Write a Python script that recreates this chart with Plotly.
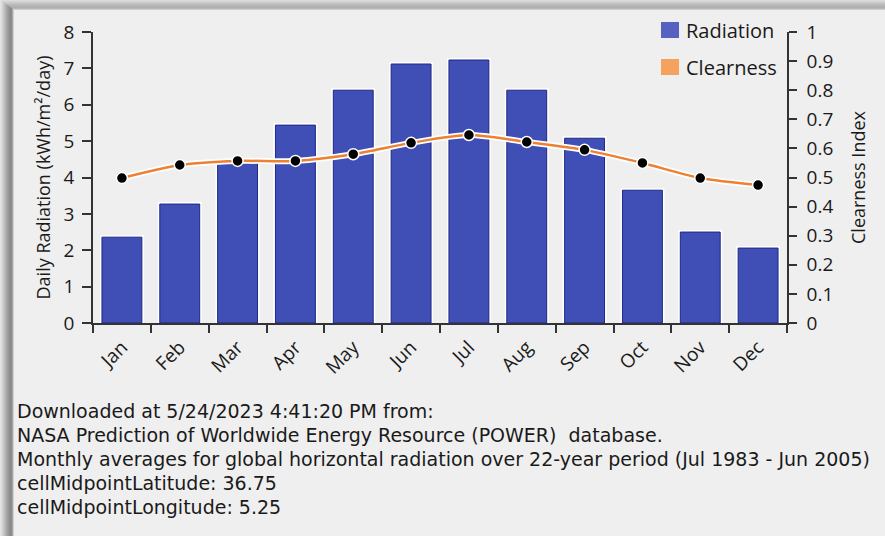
import plotly.graph_objects as go

# Monthly averages (NASA POWER, 22-year period)
months = ["Jan", "Feb", "Mar", "Apr", "May", "Jun",
          "Jul", "Aug", "Sep", "Oct", "Nov", "Dec"]
radiation = [2.36, 3.27, 4.42, 5.44, 6.40, 7.12, 7.23, 6.40, 5.08, 3.65, 2.50, 2.06]
clearness = [0.498, 0.543, 0.557, 0.557, 0.580, 0.619, 0.646, 0.622, 0.595, 0.550, 0.498, 0.474]

rad_ticks = list(range(0, 9))
clr_ticks = [i / 10 for i in range(0, 11)]
clr_labels = ["0", "0.1", "0.2", "0.3", "0.4", "0.5", "0.6", "0.7", "0.8", "0.9", "1"]

legend_names = ["Radiation", "Clearness"]

footer_lines = [
    "Downloaded at 5/24/2023 4:41:20 PM from:",
    "NASA Prediction of Worldwide Energy Resource (POWER)  database.",
    "Monthly averages for global horizontal radiation over 22-year period (Jul 1983 - Jun 2005)",
    "cellMidpointLatitude: 36.75",
    "cellMidpointLongitude: 5.25",
]

W, H = 885, 536
ML, MR, MT, MB = 93, 98, 32, 213
PW, PH = W - ML - MR, H - MT - MB

FONT = "Open Sans"
FOOT_FONT = "DejaVu Sans"
BAR = "#3f4fb5"
BAR_EDGE = "#1c2787"
ORANGE = "#ec8133"
LEG_COLORS = ["#5761c2", "#f5a25f"]
BG = "#efefef"
AX = "#333333"
TXT = "#1a1a1a"


def px(x):
    return (x - ML) / PW


def py(y):
    return (H - MB - y) / PH


fig = go.Figure()

# white glow behind the bars
fig.add_trace(go.Bar(
    x=months, y=radiation, width=0.69,
    marker=dict(color="white", line=dict(color="white", width=4)),
    showlegend=False, hoverinfo="skip",
))
fig.add_trace(go.Bar(
    x=months, y=radiation, width=0.69, name="Radiation",
    marker=dict(color=BAR, line=dict(color=BAR_EDGE, width=1)),
    showlegend=False,
))
# white glow behind the clearness curve
fig.add_trace(go.Scatter(
    x=months, y=clearness, yaxis="y2", mode="lines",
    line=dict(color="white", width=6, shape="spline", smoothing=0.8),
    showlegend=False, hoverinfo="skip",
))
fig.add_trace(go.Scatter(
    x=months, y=clearness, yaxis="y2", mode="lines+markers", name="Clearness",
    line=dict(color=ORANGE, width=2.5, shape="spline", smoothing=0.8),
    marker=dict(color="black", size=11, line=dict(color="white", width=1.5)),
    showlegend=False,
))

shapes = []
# frame shading along the top and left edges
top_shades = ["#dcdcdc", "#d4d4d4", "#cccccc", "#c4c4c4", "#bcbcbc",
              "#b6b6b6", "#b2b2b2", "#afafaf", "#b8b8b8", "#cfcfcf"]
for i, c in enumerate(top_shades):
    shapes.append(dict(type="rect", xref="paper", yref="paper",
                       x0=px(0), x1=px(W), y0=py(i + 1), y1=py(i),
                       fillcolor=c, line=dict(width=0), layer="below"))
left_shades = ["#e4e4e4", "#dcdcdc", "#d2d2d2", "#c8c8c8", "#bebebe", "#b4b4b4",
               "#aaaaaa", "#a0a0a0", "#979797", "#8f8f8f", "#8a8a8a", "#8c8c8c",
               "#a6a6a6", "#cfcfcf"]
for i, c in enumerate(left_shades):
    shapes.append(dict(type="rect", xref="paper", yref="paper",
                       x0=px(i), x1=px(i + 1), y0=py(H), y1=py(i * 10 / 14),
                       fillcolor=c, line=dict(width=0), layer="below"))

annotations = []
# legend: coloured squares with labels
for k, (name, col) in enumerate(zip(legend_names, LEG_COLORS)):
    cy = 30 + 37 * k
    shapes.append(dict(type="rect", xref="paper", yref="paper",
                       x0=px(661), x1=px(679), y0=py(cy + 8), y1=py(cy - 8),
                       fillcolor=col, line=dict(width=0)))
    annotations.append(dict(
        text=name, xref="paper", yref="paper", x=px(684), y=py(cy),
        xanchor="left", yanchor="middle", showarrow=False,
        font=dict(family=FONT, size=20, color=TXT),
    ))

for k, line in enumerate(footer_lines):
    annotations.append(dict(
        text=line, xref="paper", yref="paper", x=px(16), y=py(411 + 24 * k),
        xanchor="left", yanchor="middle", showarrow=False, height=22,
        borderpad=0, font=dict(family=FOOT_FONT, size=19, color=TXT),
    ))

tick_font = dict(family=FONT, size=19, color=TXT)

fig.update_layout(
    width=W, height=H,
    margin=dict(l=ML, r=MR, t=MT, b=MB, pad=0),
    paper_bgcolor=BG, plot_bgcolor=BG,
    barmode="overlay",
    font=dict(family=FONT, color=TXT),
    shapes=shapes,
    annotations=annotations,
    showlegend=False,
    xaxis=dict(
        type="category", categoryorder="array", categoryarray=months,
        range=[-0.5, 11.5], showline=True, linecolor=AX, linewidth=1.5,
        ticks="outside", tickson="boundaries", ticklen=8, tickcolor=AX,
        tickwidth=1.5, tickangle=-45, tickfont=tick_font, showgrid=False,
        zeroline=False, ticklabelstandoff=4,
    ),
    yaxis=dict(
        range=[0, 8], tickvals=rad_ticks, showline=True, linecolor=AX,
        linewidth=1.5, ticks="outside", ticklen=9, tickcolor=AX, tickwidth=1.5,
        tickfont=tick_font, showgrid=False, zeroline=False, ticklabelstandoff=4,
        title=dict(text="Daily Radiation (kWh/m²/day)", standoff=8,
                   font=dict(family=FONT, size=18, color=TXT)),
    ),
    yaxis2=dict(
        range=[0, 1], overlaying="y", side="right", tickvals=clr_ticks,
        ticktext=clr_labels, showline=True, linecolor=AX, linewidth=1.5,
        ticks="outside", ticklen=8, tickcolor=AX, tickwidth=1.5,
        tickfont=tick_font, showgrid=False, zeroline=False, ticklabelstandoff=6,
        title=dict(text="Clearness Index", standoff=20,
                   font=dict(family=FONT, size=18, color=TXT)),
    ),
)

fig.write_html("out.html")
